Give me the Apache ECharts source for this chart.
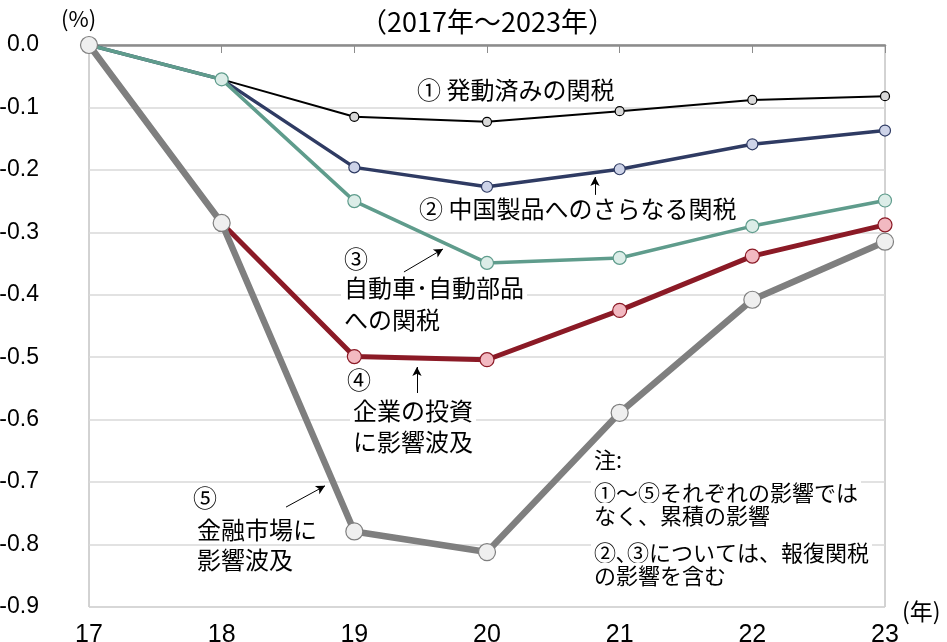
<!DOCTYPE html>
<html>
<head>
<meta charset="utf-8">
<script src="https://cdn.jsdelivr.net/npm/echarts@6/dist/echarts.min.js"></script>
<style>
  html, body { margin: 0; padding: 0; background: #fff; }
  #chart { width: 947px; height: 642px; }
</style>
</head>
<body>
<div id="chart"></div>
<script>
// データ（年、単位：%）
const years = [17, 18, 19, 20, 21, 22, 23];
const seriesNames = ['① 発動済みの関税', '② 中国製品へのさらなる関税', '③ 自動車・自動部品への関税', '④ 企業の投資に影響波及', '⑤ 金融市場に影響波及'];
const tariffDone = [0, -0.055, -0.115, -0.123, -0.106, -0.088, -0.082];
const chinaMore = [0, -0.055, -0.196, -0.227, -0.199, -0.159, -0.137];
const autoTariff = [0, -0.055, -0.250, -0.349, -0.341, -0.290, -0.249];
const investment = [0, -0.285, -0.499, -0.504, -0.425, -0.338, -0.288];
const financial = [0, -0.285, -0.779, -0.812, -0.589, -0.408, -0.315];
const yTicks = ['0.0', '-0.1', '-0.2', '-0.3', '-0.4', '-0.5', '-0.6', '-0.7', '-0.8', '-0.9'];

const numFont = "'Liberation Sans Narrow', 'Liberation Sans', Arial, sans-serif";
const jpFont = "'Noto Sans CJK JP', sans-serif";

const chart = echarts.init(document.getElementById('chart'), null, { renderer: 'canvas' });

// 系列スタイル
const styles = [
  { color: '#000000', width: 2, size: 9, fill: '#d9d9d9' },
  { color: '#2f3b63', width: 3.5, size: 11, fill: '#cdd3e8' },
  { color: '#5f9c8c', width: 3.5, size: 13, fill: '#dcede8' },
  { color: '#8b1a26', width: 5, size: 14, fill: '#f2b9c1' },
  { color: '#7f7f7f', width: 6.5, size: 17, fill: '#efefef' }
];
const allData = [tariffDone, chinaMore, autoTariff, investment, financial];

const series = allData.map((arr, i) => ({
  name: seriesNames[i],
  type: 'line',
  data: arr.map((v, k) => [years[k], v]),
  symbol: 'circle',
  symbolSize: styles[i].size,
  showAllSymbol: true,
  lineStyle: { color: styles[i].color, width: styles[i].width },
  itemStyle: { color: styles[i].fill, borderColor: styles[i].color, borderWidth: 1.2 },
  emphasis: { disabled: true },
  z: 2 + i
}));

// 注釈の矢印（データ座標）
const arrows = [
  [[19.374, -0.3635], [19.668, -0.3267]],
  [[19.472, -0.5573], [19.472, -0.5157]],
  [[18.485, -0.740], [18.779, -0.706]],
  [[20.814, -0.240], [20.814, -0.2114]]
];
series.push({
  type: 'line',
  data: [],
  silent: true,
  markLine: {
    silent: true,
    symbol: ['none', 'arrow'],
    symbolSize: [7, 9],
    label: { show: false },
    lineStyle: { color: '#000', width: 1, type: 'solid' },
    data: arrows.map(a => [{ coord: a[0] }, { coord: a[1] }])
  },
  z: 10
});

// 注釈テキスト（1行ずつ、白背景で目盛線を隠す）
function txt(x, y, text, size) {
  return {
    type: 'text',
    left: x,
    top: y,
    z: 1,
    style: {
      text: text,
      font: size + 'px ' + jpFont,
      fill: '#000',
      backgroundColor: '#fff',
      padding: [2, 3]
    }
  };
}

const option = {
  animation: false,
  backgroundColor: '#fff',
  grid: {
    left: 89, right: 62, top: 45, bottom: 35,
    outerBoundsMode: 'none',
    show: true, borderColor: '#a6a6a6', borderWidth: 1
  },
  xAxis: {
    type: 'value',
    min: 17, max: 23, interval: 1,
    axisLine: { show: true, lineStyle: { color: '#8c8c8c', width: 2.5 } },
    axisTick: { show: true, length: 8, lineStyle: { color: '#8c8c8c', width: 1 } },
    splitLine: { show: false },
    axisLabel: { fontSize: 25, fontFamily: numFont, color: '#000', margin: 16 }
  },
  yAxis: {
    type: 'value',
    min: -0.9, max: 0, interval: 0.1,
    axisLine: { show: false },
    axisTick: { show: false },
    splitLine: { lineStyle: { color: '#d9d9d9', width: 1.5 } },
    axisLabel: {
      fontSize: 23, fontFamily: numFont, color: '#000', margin: 50,
      formatter: v => yTicks[Math.round(-v * 10)]
    }
  },
  graphic: [
    { type: 'text', left: 61, top: 8, style: { text: '(%)', font: '22px ' + jpFont, fill: '#000' } },
    { type: 'text', left: 902, top: 600, style: { text: '(年)', font: '23px ' + jpFont, fill: '#000' } },
    { type: 'text', left: 360, top: 8, style: { text: '（2017年～2023年）', font: '27px ' + jpFont, fill: '#000' } },
    txt(414, 76, '① 発動済みの関税', 24),
    txt(416, 195, '② 中国製品へのさらなる関税', 24),
    txt(341, 245, '③', 24),
    txt(341, 274, '自動車･自動部品', 24),
    txt(341, 306, 'への関税', 24),
    txt(344, 366, '④', 24),
    txt(350, 397, '企業の投資', 24),
    txt(350, 428, 'に影響波及', 24),
    txt(190, 484, '⑤', 24),
    txt(194, 516, '金融市場に', 24),
    txt(194, 546, '影響波及', 24),
    txt(591, 447, '注:', 22),
    txt(591, 480, '①～⑤それぞれの影響では', 22),
    txt(591, 503, 'なく、累積の影響', 22),
    txt(591, 540, '②､③については、報復関税', 22),
    txt(591, 563, 'の影響を含む', 22)
  ],
  series: series
};

chart.setOption(option);
</script>
</body>
</html>
